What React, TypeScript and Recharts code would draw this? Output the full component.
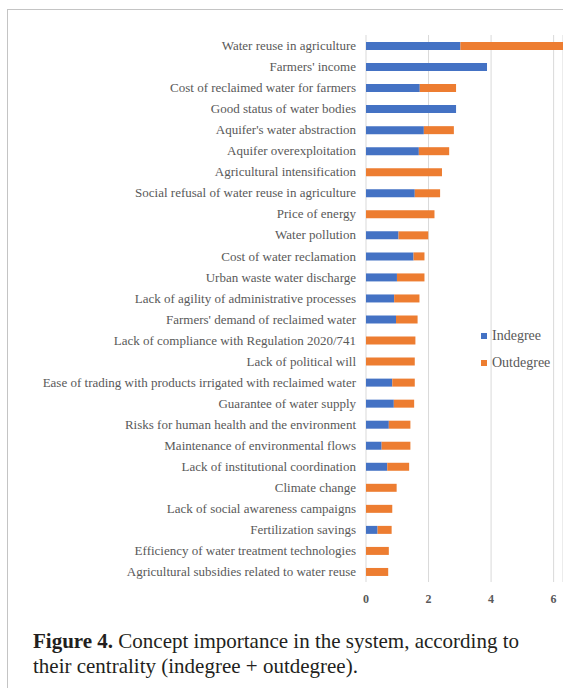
import { Bar, BarChart, CartesianGrid, XAxis, YAxis } from "recharts"

const concepts = [
  "Water reuse in agriculture",
  "Farmers' income",
  "Cost of reclaimed water for farmers",
  "Good status of water bodies",
  "Aquifer's water abstraction",
  "Aquifer overexploitation",
  "Agricultural intensification",
  "Social refusal of water reuse in agriculture",
  "Price of energy",
  "Water pollution",
  "Cost of water reclamation",
  "Urban waste water discharge",
  "Lack of agility of administrative processes",
  "Farmers' demand of reclaimed water",
  "Lack of compliance with Regulation 2020/741",
  "Lack of political will",
  "Ease of trading with products irrigated with reclaimed water",
  "Guarantee of water supply",
  "Risks for human health and the environment",
  "Maintenance of environmental flows",
  "Lack of institutional coordination",
  "Climate change",
  "Lack of social awareness campaigns",
  "Fertilization savings",
  "Efficiency of water treatment technologies",
  "Agricultural subsidies related to water reuse",
]

const indegree = [
  3.02, 3.87, 1.72, 2.88, 1.85, 1.69, 0, 1.56, 0, 1.04, 1.52, 0.99, 0.9,
  0.96, 0, 0, 0.84, 0.89, 0.73, 0.5, 0.68, 0, 0, 0.37, 0, 0,
]

const outdegree = [
  3.28, 0, 1.16, 0, 0.96, 0.97, 2.43, 0.81, 2.19, 0.95, 0.35, 0.88, 0.81,
  0.69, 1.58, 1.56, 0.72, 0.65, 0.69, 0.92, 0.7, 0.98, 0.84, 0.45, 0.73, 0.71,
]

const xTicks = [0, 2, 4, 6]

const data = concepts.map((name, i) => ({
  name,
  Indegree: indegree[i],
  Outdegree: outdegree[i],
}))

const serif = "'Liberation Serif', 'DejaVu Serif', serif"
const gray = "#595959"

// single-line category label (the default tick wraps long names)
function ConceptTick(props: any) {
  const { x, y, payload } = props
  return (
    <text x={x} y={y} dy="0.355em" textAnchor="end" fill={gray} fontSize={13} fontFamily={serif}>
      {payload.value}
    </text>
  )
}

function LegendBox() {
  const items = [
    { label: "Indegree", color: "#4472C4" },
    { label: "Outdegree", color: "#ED7D31" },
  ]
  return (
    <div style={{ fontFamily: serif, fontSize: 14, color: gray }}>
      {items.map((it) => (
        <div key={it.label} style={{ display: "flex", alignItems: "center", height: 27 }}>
          <span style={{ width: 6, height: 6, background: it.color, marginRight: 5 }} />
          {it.label}
        </div>
      ))}
    </div>
  )
}

export default function App() {
  return (
    <div
      style={{
        position: "absolute",
        left: 0,
        top: 0,
        width: 563,
        height: 688,
        overflow: "hidden",
        background: "#fff",
      }}
    >
      <div
        style={{
          position: "absolute",
          left: 7,
          top: 9,
          width: 620,
          height: 720,
          border: "1.5px solid #c4c4c4",
        }}
      />
      <div style={{ position: "absolute", left: 0, top: 0 }}>
        <BarChart
          width={563}
          height={620}
          data={data}
          layout="vertical"
          barSize={8}
          margin={{ top: 35, right: 0, left: 0, bottom: 8 }}
        >
          <CartesianGrid horizontal={false} stroke="#d9d9d9" />
          <XAxis
            type="number"
            domain={[0, 6.3]}
            ticks={xTicks}
            axisLine={false}
            tickLine={false}
            tickMargin={6}
            height={30}
            tick={{ fill: gray, fontSize: 12, fontFamily: serif, fontWeight: "bold" }}
          />
          <YAxis
            type="category"
            dataKey="name"
            width={366}
            interval={0}
            axisLine={false}
            tickLine={false}
            tickMargin={4}
            tick={<ConceptTick />}
          />
          <Bar dataKey="Indegree" stackId="a" fill="#4472C4" isAnimationActive={false} />
          <Bar dataKey="Outdegree" stackId="a" fill="#ED7D31" isAnimationActive={false} />
        </BarChart>
      </div>
      <div style={{ position: "absolute", left: 481, top: 322 }}>
        <LegendBox />
      </div>
      <div
        style={{
          position: "absolute",
          left: 33,
          top: 629,
          width: 505,
          fontFamily: serif,
          fontSize: 21,
          lineHeight: "25px",
          color: "#231f20",
        }}
      >
        <b>Figure 4.</b> Concept importance in the system, according to their centrality
        (indegree + outdegree).
      </div>
    </div>
  )
}
